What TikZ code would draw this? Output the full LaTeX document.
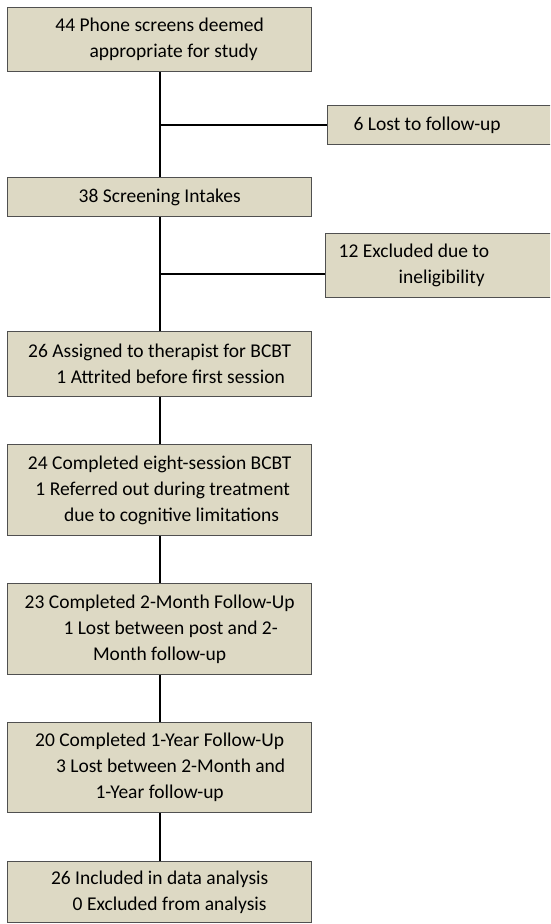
\documentclass[tikz,border=0pt]{standalone}
\usepackage{fontspec}
\setmainfont{Carlito}
\definecolor{boxtan}{RGB}{221,217,196}
\definecolor{boxedge}{RGB}{80,80,80}

\begin{document}
\begin{tikzpicture}[x=1pt,y=-1pt]
		\tikzstyle{stage}=[draw=boxedge,fill=boxtan,line width=1.3pt,rectangle,align=center,inner sep=0pt,anchor=north west,minimum width=304pt,font=\fontsize{19.5}{26}\selectfont]
		\tikzstyle{side}=[stage,align=flush left,text width=230pt,minimum width=0pt]
		\tikzstyle{flow}=[line width=2.2pt]

		\useasboundingbox (0,0) rectangle (550,924);
		\clip (0,0) rectangle (550,924);

		\node[stage,minimum height=64pt] (phone) at (7,7) {44 Phone screens deemed\\\hspace*{28pt}appropriate for study};
		\node[stage,minimum height=39pt] (intake) at (7,177) {38 Screening Intakes};
		\node[stage,minimum height=65pt] (assign) at (7,331) {26 Assigned to therapist for BCBT\\\hspace*{22pt}1 Attrited before first session};
		\node[stage,minimum height=91pt] (treat) at (7,444) {24 Completed eight-session BCBT\\\hspace*{6pt}1 Referred out during treatment\\\hspace*{24pt}due to cognitive limitations};
		\node[stage,minimum height=91pt] (month) at (7,583) {23 Completed 2-Month Follow-Up\\\hspace*{22pt}1 Lost between post and 2-\\Month follow-up};
		\node[stage,minimum height=90pt] (year) at (7,722) {20 Completed 1-Year Follow-Up\\\hspace*{22pt}3 Lost between 2-Month and\\1-Year follow-up};
		\node[stage,minimum height=61pt] (analysis) at (7,861) {26 Included in data analysis\\\hspace*{20pt}0 Excluded from analysis};

		\node[side,inner xsep=26pt,minimum height=39pt] (lost) at (327,105) {6 Lost to follow-up};
		\node[side,inner xsep=13pt,minimum height=64pt] (excl) at (325,233) {12 Excluded due to\\\hspace*{60pt}ineligibility};

		\draw[flow] (phone) -- coordinate (j1) (intake);
		\draw[flow] (intake) -- coordinate (j2) (assign);
		\draw[flow] (assign) -- (treat);
		\draw[flow] (treat) -- (month);
		\draw[flow] (month) -- (year);
		\draw[flow] (year) -- (analysis);

		\draw[flow] (j1) -- (j1 -| lost.west);
		\draw[flow] (j2) -- (j2 -| excl.west);

\end{tikzpicture}
\end{document}
